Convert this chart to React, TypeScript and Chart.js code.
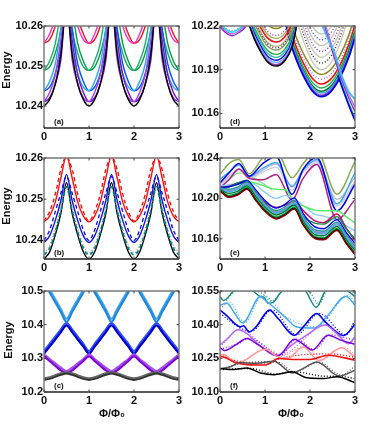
import React, { useEffect, useRef } from "react";
import { Chart, registerables } from "chart.js";

Chart.register(...registerables);

const phiGrid = [0, .125, .25, .375, .5, .625, .75, .875, 1, 1.125, 1.25, 1.375, 1.5, 1.625, 1.75, 1.875, 2, 2.125, 2.25, 2.375, 2.5, 2.625, 2.75, 2.875, 3];

// panel (a)
const aBlack = [10.24, 10.2416, 10.2455, 10.253, 10.265, 10.253, 10.2455, 10.2416, 10.24, 10.2416, 10.2455, 10.253, 10.265, 10.253, 10.2455, 10.2416, 10.24, 10.2416, 10.2455, 10.253, 10.265, 10.253, 10.2455, 10.2416, 10.24];
const aGray = [10.2404, 10.2421, 10.2462, 10.2538, 10.265, 10.2538, 10.2462, 10.2421, 10.2404, 10.2421, 10.2462, 10.2538, 10.265, 10.2538, 10.2462, 10.2421, 10.2404, 10.2421, 10.2462, 10.2538, 10.265, 10.2538, 10.2462, 10.2421, 10.2404];
const aVioletL = [10.2411, 10.2434, 10.2478, 10.2565, 10.266, 10.2515, 10.2454, 10.242, 10.2411, 10.2434, 10.2478, 10.2565, 10.266, 10.2515, 10.2454, 10.242, 10.2411, 10.2434, 10.2478, 10.2565, 10.266, 10.2515, 10.2454, 10.242, 10.2411];
const aVioletR = [10.2411, 10.242, 10.2454, 10.2515, 10.266, 10.2565, 10.2478, 10.2434, 10.2411, 10.242, 10.2454, 10.2515, 10.266, 10.2565, 10.2478, 10.2434, 10.2411, 10.242, 10.2454, 10.2515, 10.266, 10.2565, 10.2478, 10.2434, 10.2411];
const aBlueL = [10.2438, 10.2461, 10.2505, 10.2592, 10.2687, 10.2542, 10.2481, 10.2447, 10.2438, 10.2461, 10.2505, 10.2592, 10.2687, 10.2542, 10.2481, 10.2447, 10.2438, 10.2461, 10.2505, 10.2592, 10.2687, 10.2542, 10.2481, 10.2447, 10.2438];
const aBlueR = [10.2438, 10.2447, 10.2481, 10.2542, 10.2687, 10.2592, 10.2505, 10.2461, 10.2438, 10.2447, 10.2481, 10.2542, 10.2687, 10.2592, 10.2505, 10.2461, 10.2438, 10.2447, 10.2481, 10.2542, 10.2687, 10.2592, 10.2505, 10.2461, 10.2438];
const aGreenL = [10.2489, 10.2512, 10.2556, 10.2643, 10.2738, 10.2593, 10.2532, 10.2498, 10.2489, 10.2512, 10.2556, 10.2643, 10.2738, 10.2593, 10.2532, 10.2498, 10.2489, 10.2512, 10.2556, 10.2643, 10.2738, 10.2593, 10.2532, 10.2498, 10.2489];
const aGreenR = [10.2489, 10.2498, 10.2532, 10.2593, 10.2738, 10.2643, 10.2556, 10.2512, 10.2489, 10.2498, 10.2532, 10.2593, 10.2738, 10.2643, 10.2556, 10.2512, 10.2489, 10.2498, 10.2532, 10.2593, 10.2738, 10.2643, 10.2556, 10.2512, 10.2489];
const aMagenta = [10.2557, 10.258, 10.2624, 10.2711, 10.2806, 10.2661, 10.26, 10.2566, 10.2557, 10.258, 10.2624, 10.2711, 10.2806, 10.2661, 10.26, 10.2566, 10.2557, 10.258, 10.2624, 10.2711, 10.2806, 10.2661, 10.26, 10.2566, 10.2557];
const aRed = [10.2557, 10.2566, 10.26, 10.2661, 10.2806, 10.2711, 10.2624, 10.258, 10.2557, 10.2566, 10.26, 10.2661, 10.2806, 10.2711, 10.2624, 10.258, 10.2557, 10.2566, 10.26, 10.2661, 10.2806, 10.2711, 10.2624, 10.258, 10.2557];

// panel (b)
const bRed = [10.2445, 10.2459, 10.2493, 10.2552, 10.2605, 10.2552, 10.2493, 10.2459, 10.2445, 10.2459, 10.2493, 10.2552, 10.2605, 10.2552, 10.2493, 10.2459, 10.2445, 10.2459, 10.2493, 10.2552, 10.2605, 10.2552, 10.2493, 10.2459, 10.2445];
const bRedDash = [10.2447, 10.247, 10.2512, 10.2572, 10.2603, 10.2572, 10.2512, 10.247, 10.2447, 10.247, 10.2512, 10.2572, 10.2603, 10.2572, 10.2512, 10.247, 10.2447, 10.247, 10.2512, 10.2572, 10.2603, 10.2572, 10.2512, 10.247, 10.2447];
const bBlue = [10.2395, 10.2411, 10.2448, 10.2497, 10.256, 10.2497, 10.2448, 10.2411, 10.2395, 10.2411, 10.2448, 10.2497, 10.256, 10.2497, 10.2448, 10.2411, 10.2395, 10.2411, 10.2448, 10.2497, 10.256, 10.2497, 10.2448, 10.2411, 10.2395];
const bBlueDash = [10.24, 10.2425, 10.247, 10.2515, 10.2555, 10.2515, 10.247, 10.2425, 10.24, 10.2425, 10.247, 10.2515, 10.2555, 10.2515, 10.247, 10.2425, 10.24, 10.2425, 10.247, 10.2515, 10.2555, 10.2515, 10.247, 10.2425, 10.24];
const bBlack = [10.2355, 10.2372, 10.2413, 10.2466, 10.254, 10.2466, 10.2413, 10.2372, 10.2355, 10.2372, 10.2413, 10.2466, 10.254, 10.2466, 10.2413, 10.2372, 10.2355, 10.2372, 10.2413, 10.2466, 10.254, 10.2466, 10.2413, 10.2372, 10.2355];
const bTeal = [10.2365, 10.2381, 10.242, 10.2472, 10.253, 10.2472, 10.242, 10.2381, 10.2365, 10.2381, 10.242, 10.2472, 10.253, 10.2472, 10.242, 10.2381, 10.2365, 10.2381, 10.242, 10.2472, 10.253, 10.2472, 10.242, 10.2381, 10.2365];
const bGray = [10.237, 10.2388, 10.2428, 10.2478, 10.2525, 10.2478, 10.2428, 10.2388, 10.237, 10.2388, 10.2428, 10.2478, 10.2525, 10.2478, 10.2428, 10.2388, 10.237, 10.2388, 10.2428, 10.2478, 10.2525, 10.2478, 10.2428, 10.2388, 10.237];

// panel (c)
const cSkyA = [10.533, 10.504, 10.475, 10.446, 10.417, 10.446, 10.475, 10.504, 10.533, 10.504, 10.475, 10.446, 10.417, 10.446, 10.475, 10.504, 10.533, 10.504, 10.475, 10.446, 10.417, 10.446, 10.475, 10.504, 10.533];
const cSkyB = [10.525, 10.496, 10.467, 10.438, 10.408, 10.438, 10.467, 10.496, 10.525, 10.496, 10.467, 10.438, 10.408, 10.438, 10.467, 10.496, 10.525, 10.496, 10.467, 10.438, 10.408, 10.438, 10.467, 10.496, 10.525];
const cBlueA = [10.322, 10.343, 10.364, 10.386, 10.405, 10.386, 10.364, 10.343, 10.322, 10.343, 10.364, 10.386, 10.405, 10.386, 10.364, 10.343, 10.322, 10.343, 10.364, 10.386, 10.405, 10.386, 10.364, 10.343, 10.322];
const cBlueB = [10.314, 10.335, 10.356, 10.378, 10.398, 10.378, 10.356, 10.335, 10.314, 10.335, 10.356, 10.378, 10.398, 10.378, 10.356, 10.335, 10.314, 10.335, 10.356, 10.378, 10.398, 10.378, 10.356, 10.335, 10.314];
const cPurpleA = [10.312, 10.298, 10.285, 10.272, 10.262, 10.272, 10.285, 10.298, 10.312, 10.298, 10.285, 10.272, 10.262, 10.272, 10.285, 10.298, 10.312, 10.298, 10.285, 10.272, 10.262, 10.272, 10.285, 10.298, 10.312];
const cPurpleB = [10.306, 10.292, 10.278, 10.264, 10.256, 10.264, 10.278, 10.292, 10.306, 10.292, 10.278, 10.264, 10.256, 10.264, 10.278, 10.292, 10.306, 10.292, 10.278, 10.264, 10.256, 10.264, 10.278, 10.292, 10.306];
const cGrayA = [10.241, 10.244, 10.25, 10.256, 10.259, 10.256, 10.25, 10.244, 10.241, 10.244, 10.25, 10.256, 10.259, 10.256, 10.25, 10.244, 10.241, 10.244, 10.25, 10.256, 10.259, 10.256, 10.25, 10.244, 10.241];
const cGrayB = [10.236, 10.239, 10.245, 10.251, 10.255, 10.251, 10.245, 10.239, 10.236, 10.239, 10.245, 10.251, 10.255, 10.251, 10.245, 10.239, 10.236, 10.239, 10.245, 10.251, 10.255, 10.251, 10.245, 10.239, 10.236];

// panel (d)
const dArcA = [0, .12, .27, .42, .58, .7];
const dA1 = [10.2195, 10.2155, 10.2133, 10.2155, 10.22, 10.228];
const dA2 = [10.2208, 10.2167, 10.2145, 10.2167, 10.2212, 10.229];
const dA3 = [10.222, 10.218, 10.2158, 10.218, 10.2225, 10.23];
const dA4 = [10.2228, 10.2186, 10.2167, 10.2186, 10.223, 10.231];
const dArcB = [.62, .75, .9, 1.05, 1.25, 1.45, 1.6, 1.72];
const dB1 = [10.223, 10.212, 10.2025, 10.1955, 10.1925, 10.1965, 10.2055, 10.2225];
const dB2 = [10.224, 10.213, 10.2035, 10.1965, 10.1935, 10.1975, 10.2065, 10.2235];
const dB3 = [10.2255, 10.2145, 10.205, 10.198, 10.195, 10.199, 10.208, 10.225];
const dB4 = [10.227, 10.216, 10.2065, 10.1995, 10.1965, 10.2005, 10.2095, 10.2265];
const dB5 = [10.229, 10.218, 10.2085, 10.2015, 10.1985, 10.2025, 10.2115, 10.2285];
const dB6 = [10.231, 10.22, 10.2105, 10.2035, 10.2005, 10.2045, 10.2135, 10.2305];
const dB7 = [10.234, 10.223, 10.2135, 10.2065, 10.2035, 10.2075, 10.2165, 10.2335];
const dB8 = [10.2365, 10.2255, 10.216, 10.209, 10.206, 10.21, 10.219, 10.236];
const dB9 = [10.2395, 10.2285, 10.219, 10.212, 10.209, 10.213, 10.222, 10.239];
const dB10 = [10.242, 10.231, 10.2215, 10.2145, 10.2115, 10.2155, 10.2245, 10.242];
const dB11 = [10.2355, 10.2245, 10.215, 10.208, 10.205, 10.209, 10.218, 10.235];
const dB12 = [10.244, 10.233, 10.2235, 10.2165, 10.2135, 10.2175, 10.2265, 10.244];
const dB13 = [10.249, 10.238, 10.2282, 10.2212, 10.2182, 10.2222, 10.2312, 10.248];
const dArcC = [1.4, 1.55, 1.7, 1.85, 2.05, 2.25, 2.45, 2.65, 2.85, 3];
const dC1 = [10.23, 10.21, 10.1965, 10.186, 10.1755, 10.1715, 10.1745, 10.1835, 10.1975, 10.212];
const dC2 = [10.231, 10.211, 10.1975, 10.187, 10.1765, 10.1725, 10.1755, 10.1845, 10.1985, 10.213];
const dC3 = [10.2325, 10.2125, 10.199, 10.1885, 10.178, 10.174, 10.177, 10.186, 10.2, 10.2145];
const dC4 = [10.2337, 10.2137, 10.2002, 10.1897, 10.1792, 10.1752, 10.1782, 10.1872, 10.2012, 10.2157];
const dC5 = [10.236, 10.216, 10.2025, 10.192, 10.1815, 10.1775, 10.1805, 10.1895, 10.2035, 10.218];
const dC6 = [10.2387, 10.2187, 10.2052, 10.1947, 10.1842, 10.1802, 10.1832, 10.1922, 10.2062, 10.2207];
const dC7 = [10.242, 10.222, 10.2085, 10.198, 10.1875, 10.1835, 10.1865, 10.1955, 10.2095, 10.224];
const dC8 = [10.2453, 10.2253, 10.2118, 10.2013, 10.1908, 10.1868, 10.1898, 10.1988, 10.2128, 10.2273];
const dC9 = [10.272, 10.244, 10.225, 10.2103, 10.1956, 10.19, 10.1942, 10.2068, 10.2264, 10.2467];
const dC10 = [10.2765, 10.2485, 10.2295, 10.2148, 10.2001, 10.1945, 10.1987, 10.2113, 10.2309, 10.2512];
const dC11 = [10.2805, 10.2525, 10.2335, 10.2188, 10.2041, 10.1985, 10.2027, 10.2153, 10.2349, 10.2552];
const dC12 = [10.2845, 10.2565, 10.2375, 10.2228, 10.2081, 10.2025, 10.2067, 10.2193, 10.2389, 10.2592];
const dC13 = [10.2885, 10.2605, 10.2415, 10.2268, 10.2121, 10.2065, 10.2107, 10.2233, 10.2429, 10.2632];
const dC14 = [10.2925, 10.2645, 10.2455, 10.2308, 10.2161, 10.2105, 10.2147, 10.2273, 10.2469, 10.2672];
const dC15 = [10.2965, 10.2685, 10.2495, 10.2348, 10.2201, 10.2145, 10.2187, 10.2313, 10.2509, 10.2712];
const dArcD = [2.25, 2.4, 2.55, 2.7, 2.85, 3];
const dArcDLow = [2.62, 2.7, 2.85, 3];
const dD1 = [10.222, 10.211, 10.2012, 10.1865, 10.1755, 10.1696];
const dD2 = [10.23, 10.215, 10.2, 10.1855, 10.1735, 10.1646];
const dD3 = [10.227, 10.2125, 10.1975, 10.1835, 10.1715, 10.1611];
const dD4 = [10.188, 10.1805, 10.168, 10.1566];
const dD5 = [10.186, 10.179, 10.1665, 10.155];

// panel (e)
const eGrid = [0, .2, .4, .6, .8, 1, 1.25, 1.45, 1.65, 1.85, 2.1, 2.3, 2.6, 2.8, 3];
const e1 = [10.2073, 10.201, 10.2035, 10.209, 10.1975, 10.187, 10.1796, 10.1835, 10.1894, 10.1735, 10.1605, 10.159, 10.1682, 10.1555, 10.1443];
const e2 = [10.2078, 10.2018, 10.2043, 10.2098, 10.1983, 10.1878, 10.1804, 10.1843, 10.1902, 10.1743, 10.1613, 10.1598, 10.169, 10.1563, 10.1451];
const e3 = [10.2083, 10.203, 10.2055, 10.211, 10.1995, 10.189, 10.1816, 10.1855, 10.1914, 10.1755, 10.1625, 10.161, 10.1702, 10.1575, 10.1463];
const e4 = [10.2088, 10.205, 10.2072, 10.2125, 10.2015, 10.191, 10.1836, 10.1875, 10.1934, 10.1775, 10.1645, 10.163, 10.1722, 10.1595, 10.1483];
const e5 = [10.2093, 10.2066, 10.209, 10.214, 10.203, 10.1925, 10.1852, 10.189, 10.195, 10.1793, 10.1663, 10.1648, 10.1738, 10.1612, 10.15];
const e6 = [10.2098, 10.2078, 10.21, 10.215, 10.2042, 10.1938, 10.1865, 10.1903, 10.1962, 10.1805, 10.1675, 10.166, 10.175, 10.1625, 10.1513];
const e7 = [10.2103, 10.209, 10.2115, 10.2165, 10.2055, 10.1952, 10.188, 10.1918, 10.1977, 10.182, 10.169, 10.1675, 10.1765, 10.164, 10.1528];
const e8 = [10.211, 10.2115, 10.214, 10.2175, 10.208, 10.198, 10.1905, 10.1943, 10.2005, 10.185, 10.172, 10.17, 10.179, 10.1665, 10.1555];
const e9 = [10.2095, 10.2115, 10.2155, 10.218, 10.206, 10.1945, 10.1865, 10.1895, 10.193, 10.182, 10.1755, 10.1745, 10.182, 10.17, 10.16];
const e10 = [10.2105, 10.212, 10.215, 10.2155, 10.204, 10.196, 10.191, 10.1935, 10.1975, 10.188, 10.178, 10.176, 10.1845, 10.171, 10.158];
const e11 = [10.21, 10.2115, 10.214, 10.2165, 10.215, 10.212, 10.209, 10.2085, 10.197, 10.1925, 10.1884, 10.1878, 10.1877, 10.182, 10.1757];
const e12 = [10.212, 10.2135, 10.215, 10.217, 10.213, 10.206, 10.2, 10.203, 10.199, 10.193, 10.1845, 10.1825, 10.1785, 10.173, 10.168];
const eUpper = [0, .2, .42, .65, .95, 1.25, 1.6, 1.85, 2.15, 2.6, 3];
const eOlive = [10.2237, 10.2345, 10.2384, 10.2243, 10.24, 10.247, 10.2204, 10.2345, 10.247, 10.204, 10.2367];
const eBlue = [10.2155, 10.2252, 10.2345, 10.222, 10.2345, 10.2415, 10.204, 10.229, 10.2405, 10.1877, 10.214];
const eSky = [10.219, 10.226, 10.233, 10.2215, 10.23, 10.2355, 10.2115, 10.228, 10.2385, 10.1945, 10.2255];
const eSilver = [10.215, 10.222, 10.229, 10.2205, 10.228, 10.234, 10.2125, 10.229, 10.237, 10.199, 10.221];
const ePurple = [10.2105, 10.2185, 10.229, 10.22, 10.2185, 10.2237, 10.1985, 10.22, 10.2335, 10.179, 10.199];
const eSilver2 = [10.213, 10.2205, 10.228, 10.2195, 10.226, 10.231, 10.208, 10.226, 10.235, 10.1925, 10.217];
const eLimeX = [0, .2, .42, .65, .95, 1.15];
const eLime = [10.215, 10.219, 10.2253, 10.222, 10.215, 10.2085];

// panel (f)
const fTeal: number[][] = [[0, 10.525], [.08, 10.508], [.3, 10.55], [.5, 10.58], [.73, 10.55], [.9, 10.525], [.97, 10.522], [1.08, 10.495], [1.2, 10.502], [1.36, 10.547], [1.6, 10.58], [1.9, 10.55], [2.14, 10.477], [2.33, 10.547], [2.6, 10.58], [2.84, 10.55], [3, 10.525]];
const fSky: number[][] = [[0, 10.487], [.15, 10.495], [.33, 10.45], [.5, 10.408], [.9, 10.525], [1, 10.51], [1.44, 10.435], [1.7, 10.39], [2.1, 10.385], [2.4, 10.442], [2.8, 10.527], [3, 10.487]];
const fBlue: number[][] = [[0, 10.465], [.15, 10.44], [.33, 10.405], [.45, 10.39], [.52, 10.395], [.65, 10.368], [.8, 10.39], [1.1, 10.465], [1.3, 10.425], [1.65, 10.353], [1.85, 10.39], [2.15, 10.45], [2.35, 10.41], [2.75, 10.352], [3, 10.4]];
const fLilac: number[][] = [[0, 10.31], [.15, 10.335], [.4, 10.377], [.6, 10.36], [.9, 10.305], [1.25, 10.262], [1.6, 10.31], [1.9, 10.35], [2.33, 10.398], [2.6, 10.36], [2.85, 10.315], [3, 10.345]];
const fViolet: number[][] = [[0, 10.298], [.1, 10.285], [.35, 10.31], [.6, 10.338], [.85, 10.31], [1.3, 10.262], [1.65, 10.335], [1.8, 10.32], [2.05, 10.287], [2.4, 10.353], [2.7, 10.33], [3, 10.313]];
const fPink: number[][] = [[0, 10.268], [.12, 10.265], [.35, 10.228], [.5, 10.235], [1, 10.29], [1.3, 10.255], [1.5, 10.25], [1.85, 10.3], [2.2, 10.24], [2.7, 10.297], [3, 10.255]];
const fRed: number[][] = [[0, 10.26], [.1, 10.255], [.3, 10.235], [.6, 10.222], [1, 10.22], [1.3, 10.249], [1.6, 10.245], [2, 10.245], [2.4, 10.264], [3, 10.242]];
const fGray: number[][] = [[0, 10.205], [.2, 10.21], [.45, 10.231], [.8, 10.228], [1.2, 10.237], [1.6, 10.185], [1.85, 10.205], [2.15, 10.234], [2.65, 10.171], [3, 10.197]];
const fBlack: number[][] = [[0, 10.205], [.3, 10.2], [.6, 10.207], [.9, 10.185], [1.2, 10.177], [1.6, 10.19], [1.9, 10.165], [2.3, 10.16], [2.6, 10.168], [3, 10.142]];
const fTealDot: number[][] = [[.14, 10.508], [.36, 10.55], [.8, 10.55], [.96, 10.535], [1.14, 10.505], [1.42, 10.55], [1.96, 10.55], [2.2, 10.49], [2.38, 10.55], [2.9, 10.55], [3, 10.535]];
const fSkyDot: number[][] = [[0, 10.47], [.2, 10.5], [.55, 10.41], [.95, 10.53], [1.5, 10.43], [2.15, 10.39], [2.85, 10.53], [3, 10.5]];
const fBlueDot: number[][] = [[0, 10.45], [.5, 10.38], [.7, 10.37], [1.15, 10.465], [1.7, 10.355], [2.2, 10.45], [2.8, 10.355], [3, 10.42]];
const fLilacDot: number[][] = [[0, 10.3], [.45, 10.38], [.95, 10.31], [1.3, 10.262], [2.38, 10.4], [2.9, 10.32], [3, 10.35]];
const fVioletDot: number[][] = [[0, 10.29], [.4, 10.315], [.65, 10.34], [1.35, 10.265], [1.7, 10.335], [2.1, 10.29], [2.45, 10.355], [3, 10.33]];
const fPinkDot: number[][] = [[0, 10.275], [.4, 10.235], [1.05, 10.295], [1.35, 10.26], [1.9, 10.305], [2.25, 10.245], [2.75, 10.3], [3, 10.265]];
const fRedDot: number[][] = [[0, 10.265], [.35, 10.24], [.65, 10.23], [1.05, 10.225], [1.35, 10.25], [2.45, 10.27], [3, 10.255]];
const fGrayDot: number[][] = [[0, 10.2], [.5, 10.228], [1.25, 10.235], [1.65, 10.19], [2.2, 10.232], [2.7, 10.175], [3, 10.215]];
const fBlackDot: number[][] = [[0, 10.2], [.65, 10.205], [1.25, 10.18], [1.65, 10.19], [2.35, 10.17], [2.65, 10.17], [3, 10.16]];

const xTicks = [0, 1, 2, 3];
const aTicks = [10.24, 10.25, 10.26];
const dTicks = [10.16, 10.19, 10.22];
const eTicks = [10.16, 10.2, 10.24];
const cTicks = [10.2, 10.3, 10.4, 10.5];
const fTicks = [10.1, 10.25, 10.4, 10.55];

const SOLID: number[] = [];
const DASH = [4, 3];
const DOT = [1, 2];

const line = (xs: number[], ys: number[], color: string, dash = SOLID, width = 1.4) => ({
  data: ys.map((y, i) => ({ x: xs[i], y })),
  borderColor: color,
  borderWidth: width,
  borderDash: dash,
  pointRadius: 0,
  fill: false,
  cubicInterpolationMode: "monotone",
});
const trace = (pts: number[][], color: string, dash = SOLID, width = 1.4) =>
  line(pts.map((p) => p[0]), pts.map((p) => p[1]), color, dash, width);

const panels = [
  {
    label: "(a)", col: 0, row: 0, yMin: 10.2345, yMax: 10.26, ticks: aTicks, decimals: 2, energy: [7, 70],
    series: [
      line(phiGrid, aRed, "#ee1515"), line(phiGrid, aMagenta, "#ff30d0"),
      line(phiGrid, aGreenR, "#00a040"), line(phiGrid, aGreenL, "#20aa70"),
      line(phiGrid, aBlueR, "#0055ee"), line(phiGrid, aBlueL, "#30a5f0"),
      line(phiGrid, aGray, "#999999", DOT),
      line(phiGrid, aVioletR, "#7a10c8"), line(phiGrid, aVioletL, "#a040f0"),
      line(phiGrid, aBlack, "#000000"),
    ],
  },
  {
    label: "(d)", col: 1, row: 0, yMin: 10.15, yMax: 10.22, ticks: dTicks, decimals: 2,
    series: [
      line(dArcC, dC15, "#c8c8b8"), line(dArcC, dC14, "#3355ee", DOT), line(dArcC, dC13, "#c8c8b8"),
      line(dArcC, dC12, "#9933cc", DOT), line(dArcC, dC11, "#c8c8b8"), line(dArcC, dC10, "#333333", DOT),
      line(dArcC, dC9, "#c8c8b8"), line(dArcC, dC8, "#888820", SOLID, 1.5), line(dArcC, dC7, "#aa66dd", DOT),
      line(dArcC, dC6, "#ee1111", SOLID, 1.6), line(dArcC, dC5, "#22aa55"), line(dArcC, dC4, "#007733", SOLID, 1.5),
      line(dArcC, dC3, "#33a5ee"), line(dArcC, dC2, "#8833cc", SOLID, 1.5), line(dArcC, dC1, "#0000dd", SOLID, 1.7),
      line(dArcB, dB13, "#888820", SOLID, 1.5), line(dArcB, dB12, "#aa44cc", DOT), line(dArcB, dB10, "#a8b060"),
      line(dArcB, dB9, "#ee1111", SOLID, 1.6), line(dArcB, dB8, "#c0b090"), line(dArcB, dB11, "#333333", DOT),
      line(dArcB, dB7, "#889966"), line(dArcB, dB6, "#22aa44"), line(dArcB, dB5, "#33bbbb"),
      line(dArcB, dB4, "#0000dd"), line(dArcB, dB3, "#66aaff"), line(dArcB, dB2, "#9040d0"), line(dArcB, dB1, "#000000", SOLID, 1.5),
      line(dArcA, dA4, "#888888", DOT), line(dArcA, dA3, "#22ddee", SOLID, 1.6), line(dArcA, dA2, "#b070e0"), line(dArcA, dA1, "#8833cc"),
      line(dArcD, dD3, "#8833cc"), line(dArcD, dD2, "#aa77dd"), line(dArcDLow, dD4, "#00aaaa"), line(dArcDLow, dD5, "#0000dd", SOLID, 1.6), line(dArcD, dD1, "#44b5f0", SOLID, 1.8),
    ],
  },
  {
    label: "(b)", col: 0, row: 1, yMin: 10.2355, yMax: 10.26, ticks: aTicks, decimals: 2, energy: [7, 206],
    series: [
      line(phiGrid, bRedDash, "#ee1515", DASH), line(phiGrid, bRed, "#ee1515"),
      line(phiGrid, bBlueDash, "#1515dd", DASH), line(phiGrid, bBlue, "#1515dd"),
      line(phiGrid, bBlack, "#000000"), line(phiGrid, bGray, "#999999", DOT), line(phiGrid, bTeal, "#008080", DASH, 1.7),
    ],
  },
  {
    label: "(e)", col: 1, row: 1, yMin: 10.14, yMax: 10.24, ticks: eTicks, decimals: 2,
    series: [
      line(eLimeX, eLime, "#88dd88"), line(eUpper, eOlive, "#88aa55", SOLID, 1.5), line(eUpper, eSilver, "#bbbbd5"),
      line(eUpper, eSilver2, "#ccccdd"), line(eUpper, eSky, "#44aaee"), line(eUpper, eBlue, "#0000dd", SOLID, 1.5),
      line(eUpper, ePurple, "#aa2288", SOLID, 1.5), line(eGrid, e12, "#88ccff"), line(eGrid, e11, "#55ee66"),
      line(eGrid, e10, "#cc0066", SOLID, 1.5), line(eGrid, e9, "#11884a"), line(eGrid, e8, "#0000ee"),
      line(eGrid, e7, "#119999"), line(eGrid, e6, "#9090c0"), line(eGrid, e5, "#44aaee"), line(eGrid, e4, "#007733"),
      line(eGrid, e3, "#00aa44"), line(eGrid, e2, "#111111"), line(eGrid, e1, "#880000"),
    ],
  },
  {
    label: "(c)", col: 0, row: 2, yMin: 10.2, yMax: 10.5, ticks: cTicks, decimals: 1, energy: [9, 340], xTitle: 112,
    series: [
      line(phiGrid, cSkyA, "#45a8ee", SOLID, 2.2), line(phiGrid, cSkyB, "#1f88d8", SOLID, 2.2),
      line(phiGrid, cBlueA, "#3355ee", SOLID, 2.2), line(phiGrid, cBlueB, "#0000cc", SOLID, 2.2),
      line(phiGrid, cPurpleA, "#a050ee", SOLID, 2.2), line(phiGrid, cPurpleB, "#8000d0", SOLID, 2.2),
      line(phiGrid, cGrayA, "#666666", SOLID, 2), line(phiGrid, cGrayB, "#333333", SOLID, 2),
    ],
  },
  {
    label: "(f)", col: 1, row: 2, yMin: 10.1, yMax: 10.55, ticks: fTicks, decimals: 2, xTitle: 291,
    series: [
      trace(fTealDot, "#2a9a90", DOT), trace(fSkyDot, "#55b5f5", DOT), trace(fBlueDot, "#0000ee", DOT),
      trace(fLilacDot, "#bb77ff", DOT), trace(fVioletDot, "#8822dd", DOT), trace(fPinkDot, "#ff9999", DOT),
      trace(fRedDot, "#ee1111", DOT), trace(fGrayDot, "#555555", DOT), trace(fBlackDot, "#111111", DOT),
      trace(fTeal, "#1a8a80", SOLID, 1.5), trace(fSky, "#44aaee", SOLID, 1.5), trace(fBlue, "#0000ee", SOLID, 1.6),
      trace(fLilac, "#bb66ff", SOLID, 1.5), trace(fViolet, "#7700dd", SOLID, 1.5), trace(fPink, "#ff9999", SOLID, 1.5),
      trace(fRed, "#ee1111", SOLID, 1.6), trace(fGray, "#555555", SOLID, 1.5), trace(fBlack, "#000000", SOLID, 1.5),
    ],
  },
];

const colBox = [{ left: 0, width: 188, plotLeft: 44, plotRight: 179 }, { left: 186, width: 188, plotLeft: 220, plotRight: 355 }];
const rowBox = [{ top: 10, height: 136, plotTop: 26, plotBottom: 128 }, { top: 143, height: 136, plotTop: 158, plotBottom: 259 }, { top: 275, height: 152, plotTop: 291, plotBottom: 392 }];
const FONT = "'Liberation Sans', Arial, sans-serif";

const framePlugin = {
  id: "frame",
  afterDatasetsDraw(chart: any, _a: any, opts: any) {
    const { ctx, chartArea: a, scales } = chart;
    const c = opts.col;
    const r = opts.row;
    ctx.save();
    ctx.lineWidth = 1.4;
    ctx.strokeStyle = "#777777";
    ctx.beginPath();
    ctx.moveTo(a.left, a.bottom); ctx.lineTo(a.left, a.top); ctx.lineTo(a.right, a.top); ctx.lineTo(a.right, a.bottom);
    ctx.stroke();
    ctx.strokeStyle = "#222222";
    ctx.beginPath();
    ctx.moveTo(a.left, a.bottom); ctx.lineTo(a.right, a.bottom);
    ctx.stroke();
    ctx.lineWidth = 1;
    ctx.strokeStyle = "#444444";
    ctx.beginPath();
    for (const t of scales.x.ticks) {
      const px = scales.x.getPixelForValue(t.value);
      ctx.moveTo(px, a.bottom); ctx.lineTo(px, a.bottom - 2.5);
      ctx.moveTo(px, a.top); ctx.lineTo(px, a.top + 2.5);
    }
    for (const t of scales.y.ticks) {
      const py = scales.y.getPixelForValue(t.value);
      ctx.moveTo(a.left, py); ctx.lineTo(a.left + 2.5, py);
      ctx.moveTo(a.right, py); ctx.lineTo(a.right - 2.5, py);
    }
    ctx.stroke();
    ctx.fillStyle = "#111111";
    ctx.textBaseline = "middle";
    ctx.font = `bold 8px ${FONT}`;
    ctx.textAlign = "left";
    ctx.fillText(opts.text, a.left + 10, a.bottom - 6.5);
    ctx.font = `bold 11px ${FONT}`;
    ctx.textAlign = "center";
    if (opts.energy) {
      ctx.save();
      ctx.translate(opts.energy[0] - c.left, opts.energy[1] - r.top);
      ctx.rotate(-Math.PI / 2);
      ctx.fillText("Energy", 0, 0);
      ctx.restore();
    }
    if (opts.xTitle) ctx.fillText("Φ/Φ₀", opts.xTitle - c.left, 414 - r.top);
    ctx.restore();
  },
};

function Panel({ p }: { p: any }) {
  const ref = useRef<HTMLCanvasElement>(null);
  const c = colBox[p.col];
  const r = rowBox[p.row];
  useEffect(() => {
    const chart = new Chart(ref.current as HTMLCanvasElement, {
      type: "line",
      data: { datasets: [...p.series].reverse() },
      plugins: [framePlugin],
      options: {
        animation: false,
        responsive: false,
        layout: { padding: { top: r.plotTop - r.top, right: c.left + c.width - c.plotRight, left: 0, bottom: 0 } },
        plugins: { legend: { display: false }, tooltip: { enabled: false }, frame: { text: p.label, energy: p.energy, xTitle: p.xTitle, col: c, row: r } },
        scales: {
          x: {
            type: "linear", min: 0, max: 3,
            grid: { display: false, drawTicks: false }, border: { display: false },
            afterBuildTicks: (s: any) => { s.ticks = xTicks.map((value) => ({ value })); },
            afterFit: (s: any) => { s.height = r.top + r.height - r.plotBottom; },
            ticks: { color: "#111111", padding: 2, maxRotation: 0, autoSkip: false, font: { family: FONT, size: 11, weight: "bold" }, callback: (v: any) => String(v) },
          },
          y: {
            type: "linear", min: p.yMin, max: p.yMax,
            grid: { display: false, drawTicks: false }, border: { display: false },
            afterBuildTicks: (s: any) => { s.ticks = p.ticks.map((value: number) => ({ value })); },
            afterFit: (s: any) => { s.width = c.plotLeft - c.left; },
            ticks: { color: "#111111", padding: 1, autoSkip: false, font: { family: FONT, size: 11, weight: "bold" }, callback: (v: any) => Number(v).toFixed(p.decimals) },
          },
        },
      },
    } as any);
    return () => chart.destroy();
  }, []);
  return <canvas ref={ref} width={c.width} height={r.height} style={{ position: "absolute", left: c.left, top: r.top, width: c.width, height: r.height }} />;
}

export default function App() {
  return (
    <div style={{ position: "fixed", left: 0, top: 0, width: 374, height: 427, background: "#ffffff", overflow: "hidden" }}>
      {panels.map((p) => <Panel key={p.label} p={p} />)}
    </div>
  );
}
